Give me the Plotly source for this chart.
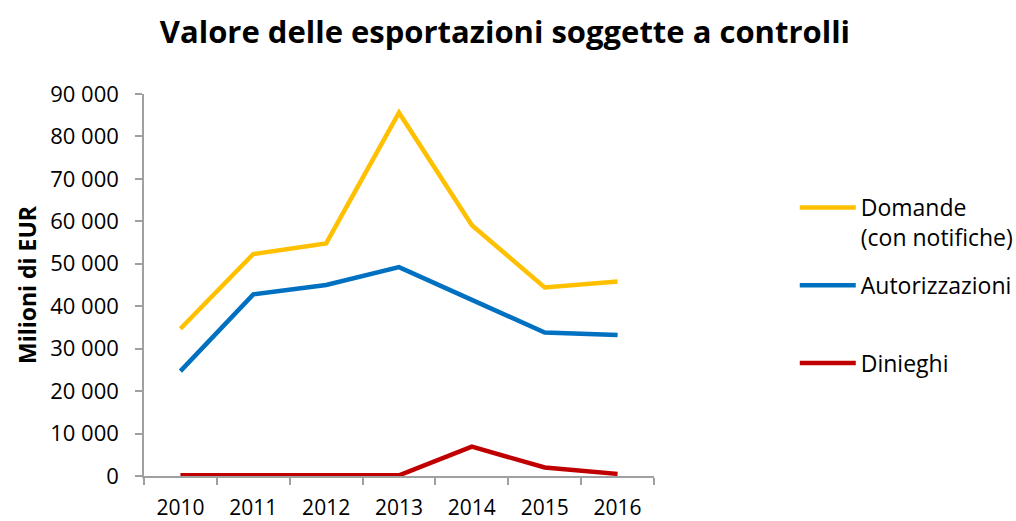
import plotly.graph_objects as go

years = ["2010", "2011", "2012", "2013", "2014", "2015", "2016"]
domande = [34700, 52300, 54800, 85600, 59100, 44400, 45800]
autorizzazioni = [24700, 42800, 45000, 49200, 41500, 33800, 33200]
dinieghi = [150, 150, 150, 150, 6900, 2000, 500]

series_names = ["Domande<br>(con notifiche)", "Autorizzazioni<br> ", "Dinieghi"]
series_values = [domande, autorizzazioni, dinieghi]
series_colors = ["#FFC000", "#0070C0", "#C00000"]

FONT = "Open Sans"

fig = go.Figure()
for i, (name, vals, col) in enumerate(zip(series_names, series_values, series_colors)):
    fig.add_trace(go.Scatter(
        x=years, y=vals, name=name, mode="lines",
        line=dict(color=col, width=4.5),
        legendgroup=str(i),
    ))

fig.update_layout(
    width=1016, height=521,
    margin=dict(l=144, r=362, t=94, b=45, autoexpand=False),
    paper_bgcolor="white", plot_bgcolor="white",
    separators=", ",
    title=dict(text="<b>Valore delle esportazioni soggette a controlli</b>",
               x=0.497, xanchor="center", y=0.938, yanchor="middle",
               font=dict(family=FONT, size=31, color="black")),
    font=dict(family=FONT, size=21, color="black"),
    showlegend=True,
    legend=dict(x=1.276, xanchor="left", y=0.759, yanchor="top",
                font=dict(family=FONT, size=23, color="black"),
                tracegroupgap=15, valign="top", itemwidth=56,
                bgcolor="rgba(0,0,0,0)"),
    xaxis=dict(type="category", range=[-0.5, 6.5], showline=True,
               linecolor="#A0A0A0", linewidth=1.5, ticks="outside",
               tickson="boundaries", ticklen=7, tickcolor="#A0A0A0",
               tickwidth=1.5, showgrid=False, zeroline=False,
               automargin=False, ticklabelstandoff=12,
               tickfont=dict(family=FONT, size=21, color="black")),
    yaxis=dict(range=[0, 90000], dtick=10000, tickformat=",d",
               showline=True, linecolor="#A0A0A0", linewidth=1.5,
               ticks="outside", ticklen=7, tickcolor="#A0A0A0", tickwidth=1.5,
               showgrid=False, zeroline=False, automargin=False,
               ticklabelstandoff=12,
               title=dict(text="<b>Milioni di EUR</b>", standoff=7,
                          font=dict(family=FONT, size=23, color="black")),
               tickfont=dict(family=FONT, size=22, color="black")),
)

fig.write_html("out.html",
               config={"displayModeBar": False},
               post_script="document.body.style.margin='0px';document.body.style.overflow='hidden';")
